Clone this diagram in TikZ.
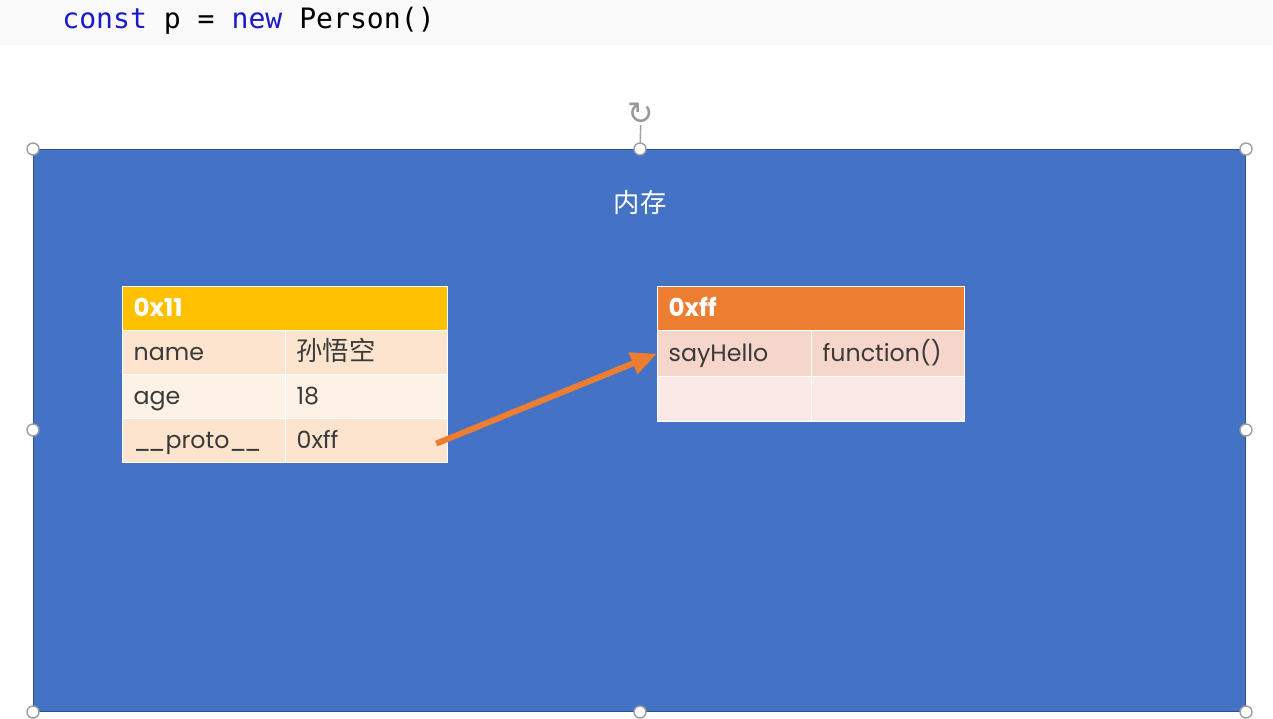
\documentclass[tikz,border=0pt]{standalone}
\usepackage{fontspec}
\usetikzlibrary{arrows.meta, positioning}
\setmainfont{Poppins}
\newfontfamily\cjk{Noto Sans CJK SC}
\newfontfamily\codefont{DejaVu Sans Mono}
\newfontfamily\symfont{DejaVu Sans}

\definecolor{memblue}{HTML}{4472C4}
\definecolor{memedge}{HTML}{2F528F}
\definecolor{gold}{HTML}{FFC000}
\definecolor{peachA}{HTML}{FCE4CE}
\definecolor{peachB}{HTML}{FEF2E7}
\definecolor{orng}{HTML}{ED7D31}
\definecolor{roseA}{HTML}{F6D5CB}
\definecolor{roseB}{HTML}{FAE9E5}
\definecolor{txtgray}{HTML}{3A3A3A}
\definecolor{kwblue}{HTML}{1A1AC8}

\tikzset{
  cell/.style={anchor=north west, draw=white, line width=0.7pt, inner xsep=0.22cm, inner ysep=0pt,
    align=left, text width=#1, text height=2.1ex, text depth=0.5ex, text=txtgray,
    font=\fontsize{13.5}{16}\selectfont},
  hdr/.style={cell=#1, text=white, font=\fontsize{14}{16}\selectfont\bfseries},
  handle/.style={circle, draw=gray!75, fill=white, line width=0.8pt, inner sep=0pt, minimum size=0.24cm},
  ptr/.style={-{Triangle[length=0.52cm, width=0.44cm]}, line width=3.4pt, orng}
}

\begin{document}
\begin{tikzpicture}[x=0.02cm, y=-0.02cm]
  \useasboundingbox (0,0) rectangle (1273,719);
  \fill[white] (0,0) rectangle (1273,719);
  \fill[black!2] (0,0) rectangle (1273,45);

  % code line
  \node[anchor=west, inner sep=0pt, font=\codefont\fontsize{16}{18}\selectfont] (code) at (62,21)
    {{\color{kwblue}const} p = {\color{kwblue}new} Person()};

  % memory area
  \node[draw=memedge, fill=memblue, line width=0.6pt, minimum width=24.26cm, minimum height=11.26cm, inner sep=0pt] (mem) at (639.5,430.5) {};
  \node[text=white, font=\cjk\fontsize{15}{18}\selectfont] (title) at (640,203) {内存};

  % object 0x11
  \node[hdr=6.06cm, fill=gold, minimum height=0.88cm] (obj) at (122,286) {0x11};
  \node[cell=2.82cm, fill=peachA, minimum height=0.88cm] (namek) at (122,330) {name};
  \node[cell=2.80cm, fill=peachA, minimum height=0.88cm] (namev) at (285,330) {\cjk\fontsize{15}{16}\selectfont 孙悟空};
  \node[cell=2.82cm, fill=peachB, minimum height=0.88cm] (agek) at (122,374) {age};
  \node[cell=2.80cm, fill=peachB, minimum height=0.88cm] (agev) at (285,374) {18};
  \node[cell=2.82cm, fill=peachA, minimum height=0.88cm] (protok) at (122,418) {\_\kern-1.6pt\_proto\_\kern-1.6pt\_};
  \node[cell=2.80cm, fill=peachA, minimum height=0.88cm] (protov) at (285,418) {0xff};

  % prototype 0xff
  \node[hdr=5.70cm, fill=orng, minimum height=0.88cm] (proto) at (657,286) {0xff};
  \node[cell=2.64cm, fill=roseA, minimum height=0.92cm] (sayk) at (657,330) {sayHello};
  \node[cell=2.62cm, fill=roseA, minimum height=0.92cm] (sayv) at (811,330) {function()};
  \node[cell=2.64cm, fill=roseB, minimum height=0.90cm] (emptyk) at (657,376) {};
  \node[cell=2.62cm, fill=roseB, minimum height=0.90cm] (emptyv) at (811,376) {};

  \draw[ptr] ([xshift=-0.24cm, yshift=-0.06cm]protov.east) -- (sayk.west);

  % selection handles
  \foreach \x/\y/\n in {33/149/nw, 640/149/n, 1246/149/ne, 33/430/w, 1246/430/e, 33/712/sw, 640/712/s, 1246/712/se}
    \node[handle] (h\n) at (\x,\y) {};
  \node[text=gray!80, inner sep=0pt, font=\symfont\fontsize{18}{18}\selectfont] (rot) at (641,114) {↻};
  \draw[gray!75, line width=0.8pt] (hn) -- (rot);
\end{tikzpicture}
\end{document}
